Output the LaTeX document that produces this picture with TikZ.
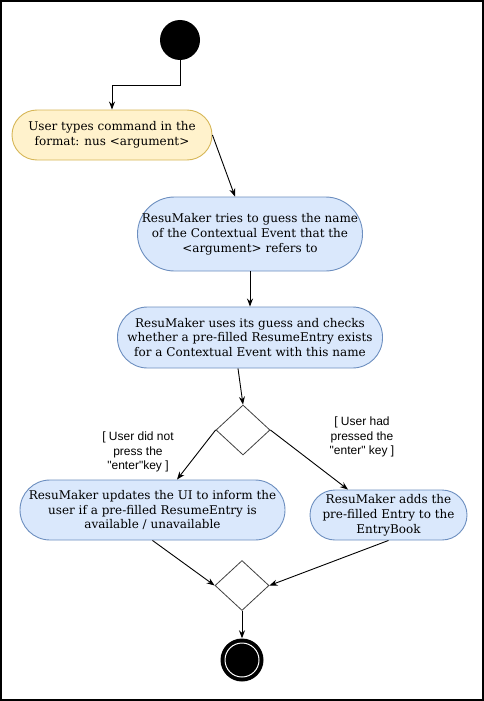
\documentclass[tikz,border=0pt]{standalone}
\usepackage{fontspec}
\setmainfont{DejaVu Serif}
\newfontfamily\labelfont{Liberation Sans}
\usetikzlibrary{shapes.geometric,arrows.meta,calc}
\definecolor{yfill}{HTML}{FFF2CC}
\definecolor{ydraw}{HTML}{D6B656}
\definecolor{bfill}{HTML}{DAE8FC}
\definecolor{bdraw}{HTML}{6C8EBF}
\tikzset{
  act/.style={draw=bdraw, fill=bfill, line width=0.9pt, align=center, inner sep=0pt,
     font=\fontsize{12}{14.8}\selectfont},
  yact/.style={act, draw=ydraw, fill=yfill},
  dec/.style={diamond, draw=black!75, line width=0.8pt, minimum width=54pt, minimum height=50pt, inner sep=0pt},
  arr/.style={-{Stealth[length=8pt,width=6pt]}, line width=0.9pt},
  guard/.style={align=center, font=\labelfont\fontsize{12}{14.5}\selectfont}
}
\begin{document}
\begin{tikzpicture}[x=1pt,y=-1pt]
\useasboundingbox (0,0) rectangle (484,701);
\draw[line width=2pt] (1,1) rectangle (483,700);

\node[circle, fill=black, minimum size=40pt, inner sep=0pt] (start) at (180,40) {};

\node[yact, minimum width=200pt, minimum height=50pt, rounded corners=25pt] (user) at (112,135)
  {User types command in the\\format: nus <argument>};

\node[act, minimum width=225pt, minimum height=74pt, rounded corners=37pt] (guess) at (250,234)
  {ResuMaker tries to guess the name\\of the Contextual Event that the\\<argument> refers to};

\node[act, minimum width=265pt, minimum height=61pt, rounded corners=30pt] (check) at (250,337.5)
  {ResuMaker uses its guess and checks\\whether a pre-filled ResumeEntry exists\\for a Contextual Event with this name};

\node[dec] (d1) at (243,430) {};

\node[act, minimum width=265pt, minimum height=60pt, rounded corners=30pt] (ui) at (152.5,510)
  {ResuMaker updates the UI to inform the\\user if a pre-filled ResumeEntry is\\available / unavailable};

\node[act, minimum width=157pt, minimum height=50pt, rounded corners=25pt] (adds) at (388.5,515)
  {ResuMaker adds the\\pre-filled Entry to the\\EntryBook};

\node[dec] (d2) at (242,585.5) {};

\node[circle, fill=black, minimum size=43pt, inner sep=0pt] (end) at (242,660) {};
\draw[white, line width=1pt] (end.center) circle (17);

\node[guard] (g1) at (138,452) {[ User did not\\press the\\"enter"key ]};
\node[guard] (g2) at (362,437) {[ User had\\pressed the\\"enter" key ]};

\draw[arr] (start.south) -- ++(0,25) -| (user.north);
\draw[arr] (user.east) -- ($(guess.north)+(-15,0)$);
\draw[arr] (guess.south) -- (check.north);
\draw[arr] ($(check.south)+(-12,0)$) -- (d1.north);
\draw[arr] (d1.west) -- ($(ui.north)+(24.5,0)$);
\draw[arr] (d1.east) -- ($(adds.north)+(-40.5,0)$);
\draw[arr] (ui.south) -- (d2.west);
\draw[arr] (adds.south) -- (d2.east);
\draw[arr] (d2.south) -- (end.north);
\end{tikzpicture}
\end{document}
